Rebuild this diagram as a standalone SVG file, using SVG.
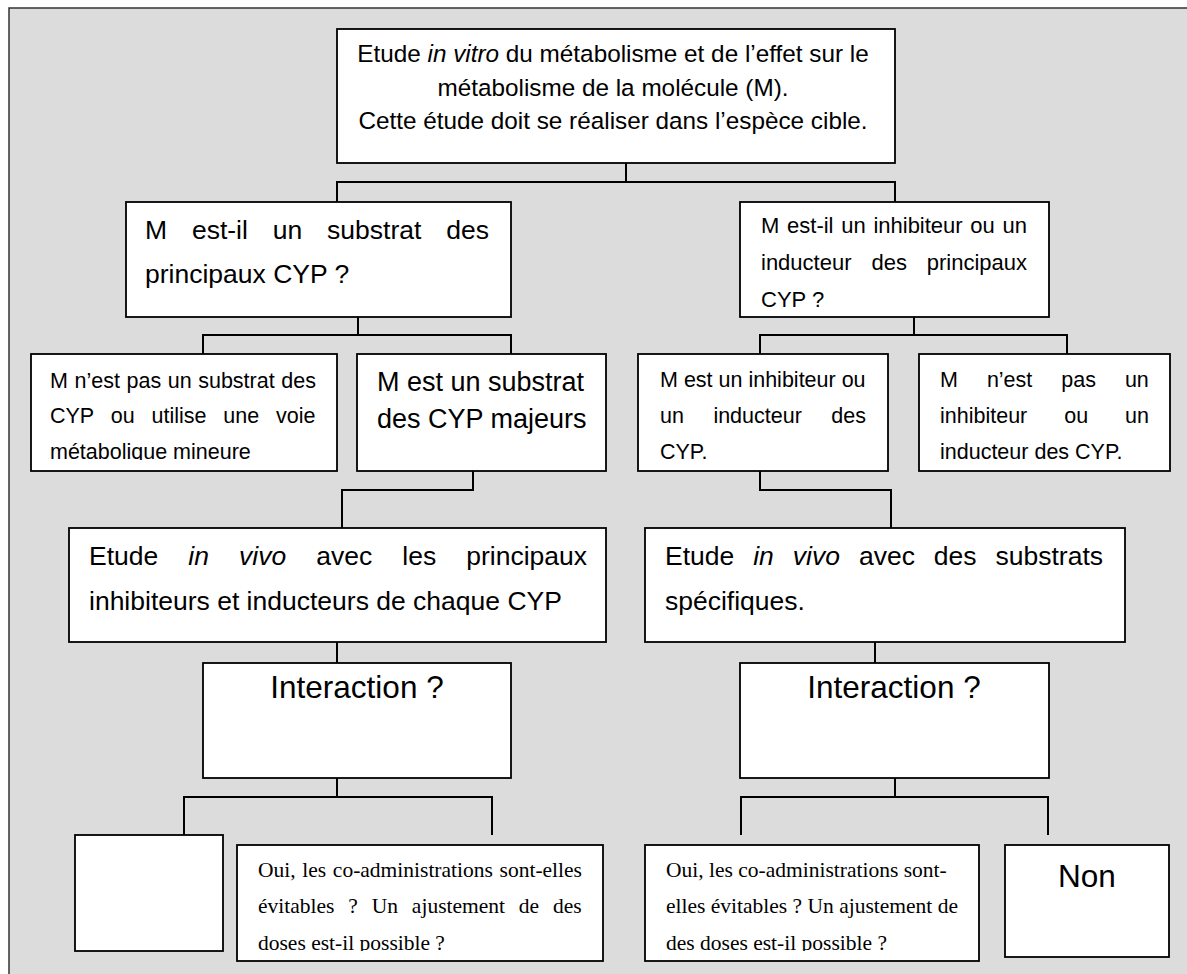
<svg xmlns="http://www.w3.org/2000/svg" width="1187" height="974" viewBox="0 0 1187 974">
<style>
.box{fill:#fff;stroke:#000;stroke-width:1.8}
.conn{fill:none;stroke:#000;stroke-width:2}
.s{font-family:"Liberation Sans",Arial,sans-serif;fill:#000}
.t{font-family:"Liberation Serif","Times New Roman",serif;fill:#000;font-size:21.5px}
.i{font-style:italic}
</style>
<defs>
<clipPath id="clipA"><rect x="31" y="354" width="306" height="106"/></clipPath>
<clipPath id="clipOL"><rect x="237" y="845" width="366" height="106"/></clipPath>
<clipPath id="clipOR"><rect x="645" y="845" width="334" height="106"/></clipPath>
</defs>
<rect x="9" y="8" width="1200" height="1000" fill="#dcdcdc" stroke="#333" stroke-width="1.5"/>
<g id="connectors">
<path class="conn" d="M626 163V182M337 202V182H895V202"/>
<path class="conn" d="M358 317V335M203 354V335H511V354"/>
<path class="conn" d="M914 317V335M760 354V335H1067V354"/>
<path class="conn" d="M473 471V490H342V528"/>
<path class="conn" d="M760 471V490H891V528"/>
<path class="conn" d="M337 642V663"/>
<path class="conn" d="M875 642V663"/>
<path class="conn" d="M337 778V797M184 835V797H492V835"/>
<path class="conn" d="M895 778V797M741 835V797H1048V835"/>
</g>
<g id="n-top">
<rect class="box" x="337" y="29" width="558" height="134"/>
<text class="s" font-size="24.3" text-anchor="middle"><tspan x="613" y="62">Etude <tspan class="i">in vitro</tspan> du métabolisme et de l’effet sur le</tspan><tspan x="613" y="95.5">métabolisme de la molécule (M).</tspan><tspan x="613" y="129">Cette étude doit se réaliser dans l’espèce cible.</tspan></text>
</g>
<g id="n-q-left">
<rect class="box" x="126" y="202" width="385" height="115"/>
<text class="s" font-size="26.5" x="145" y="239" word-spacing="17.5">M est-il un substrat des</text>
<text class="s" font-size="26.5" x="145" y="283">principaux CYP ?</text>
</g>
<g id="n-q-right">
<rect class="box" x="740" y="202" width="309" height="115"/>
<text class="s" font-size="22" x="761" y="233" word-spacing="1.6">M est-il un inhibiteur ou un</text>
<text class="s" font-size="22" x="761" y="270" word-spacing="13.8">inducteur des principaux</text>
<text class="s" font-size="22" x="761" y="307">CYP ?</text>
</g>
<g id="n-a">
<rect class="box" x="31" y="354" width="306" height="117"/>
<g clip-path="url(#clipA)">
<text class="s" font-size="21.5" x="50" y="388" word-spacing="0.6">M n’est pas un substrat des</text>
<text class="s" font-size="21.5" x="50" y="423" word-spacing="10.9">CYP ou utilise une voie</text>
<text class="s" font-size="21.5" x="50" y="459">métabolique mineure</text>
</g>
</g>
<g id="n-b">
<rect class="box" x="357" y="354" width="249" height="117"/>
<text class="s" font-size="27" x="377" y="391">M est un substrat</text>
<text class="s" font-size="27" x="377" y="428">des CYP majeurs</text>
</g>
<g id="n-c">
<rect class="box" x="638" y="354" width="250" height="117"/>
<text class="s" font-size="21.5" x="660" y="387">M est un inhibiteur ou</text>
<text class="s" font-size="21.5" x="660" y="423" word-spacing="23.5">un inducteur des</text>
<text class="s" font-size="21.5" x="660" y="459">CYP.</text>
</g>
<g id="n-d">
<rect class="box" x="919" y="354" width="251" height="117"/>
<text class="s" font-size="21.5" x="940" y="387" word-spacing="23">M n’est pas un</text>
<text class="s" font-size="21.5" x="940" y="423" word-spacing="31">inhibiteur ou un</text>
<text class="s" font-size="21.5" x="940" y="459">inducteur des CYP.</text>
</g>
<g id="n-etude-left">
<rect class="box" x="69" y="528" width="537" height="114"/>
<text class="s" font-size="26.5" x="89" y="565" word-spacing="22.7">Etude <tspan class="i">in vivo</tspan> avec les principaux</text>
<text class="s" font-size="26.5" x="89" y="610">inhibiteurs et inducteurs de chaque CYP</text>
</g>
<g id="n-etude-right">
<rect class="box" x="645" y="528" width="480" height="114"/>
<text class="s" font-size="26.5" x="665" y="565" word-spacing="11.6">Etude <tspan class="i">in vivo</tspan> avec des substrats</text>
<text class="s" font-size="26.5" x="665" y="610">spécifiques.</text>
</g>
<g id="n-inter-left">
<rect class="box" x="203" y="663" width="308" height="115"/>
<text class="s" font-size="31.5" x="357" y="698" text-anchor="middle">Interaction ?</text>
</g>
<g id="n-inter-right">
<rect class="box" x="740" y="663" width="309" height="115"/>
<text class="s" font-size="31.5" x="894" y="698" text-anchor="middle">Interaction ?</text>
</g>
<g id="n-empty">
<rect class="box" x="75" y="835" width="148" height="116"/>
</g>
<g id="n-oui-left">
<rect class="box" x="237" y="845" width="366" height="116"/>
<g clip-path="url(#clipOL)">
<text class="t" x="258" y="877" word-spacing="1.3">Oui, les co-administrations sont-elles</text>
<text class="t" x="258" y="913" word-spacing="8.5">évitables ? Un ajustement de des</text>
<text class="t" x="258" y="950">doses est-il possible ?</text>
</g>
</g>
<g id="n-oui-right">
<rect class="box" x="645" y="845" width="334" height="116"/>
<g clip-path="url(#clipOR)">
<text class="t" x="666" y="877">Oui, les co-administrations sont-</text>
<text class="t" x="666" y="913">elles évitables ? Un ajustement de</text>
<text class="t" x="666" y="950">des doses est-il possible ?</text>
</g>
</g>
<g id="n-non">
<rect class="box" x="1005" y="845" width="164" height="112"/>
<text class="s" font-size="31.5" x="1087" y="887" text-anchor="middle">Non</text>
</g>
</svg>
